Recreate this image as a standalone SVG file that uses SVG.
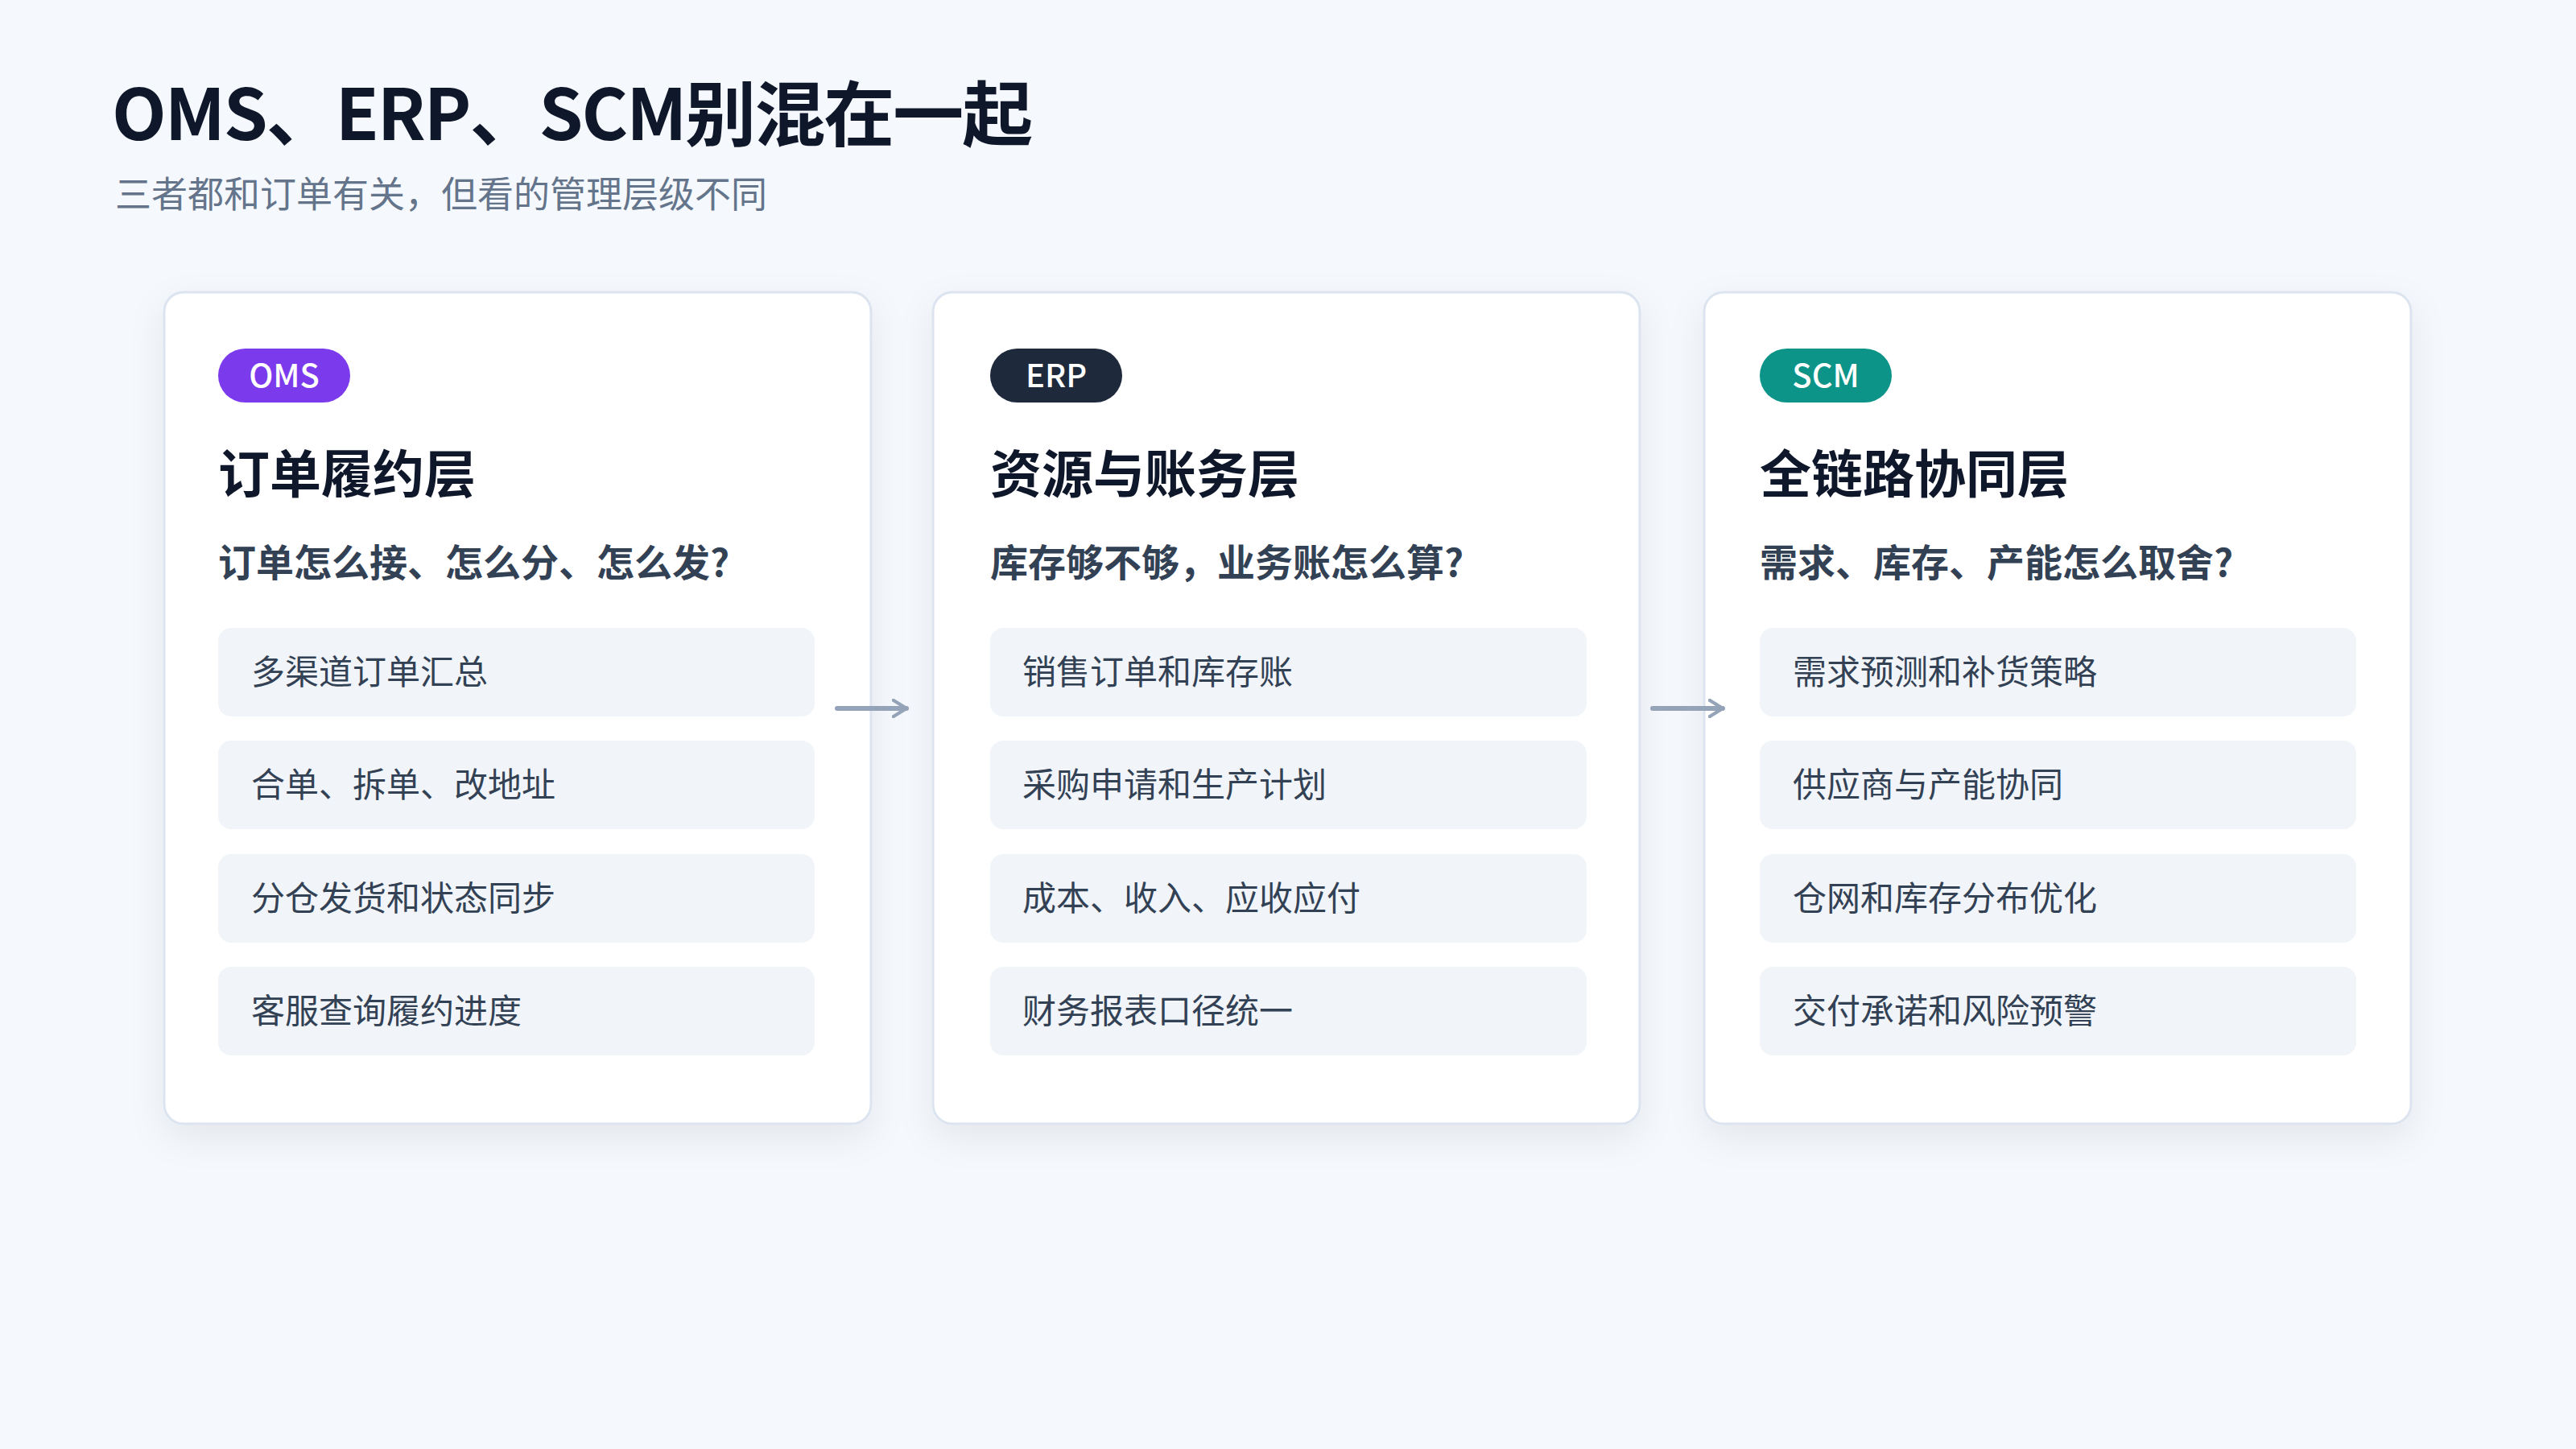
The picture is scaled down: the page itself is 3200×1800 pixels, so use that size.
<svg xmlns="http://www.w3.org/2000/svg" width="3200" height="1800" viewBox="0 0 3200 1800">
<defs>
<filter id="sh" x="-20%" y="-20%" width="140%" height="140%"><feDropShadow dx="0" dy="16" stdDeviation="22" flood-color="#0f172a" flood-opacity="0.07"/></filter>
<marker id="ah" viewBox="0 0 12 12" refX="9" refY="6" markerWidth="4" markerHeight="4" orient="auto"><path d="M1,1 L9,6 L1,11" fill="none" stroke="#94a3b8" stroke-width="2.2" stroke-linecap="round" stroke-linejoin="round"/></marker>
</defs>
<style>
text{font-family:"Noto Sans CJK SC","Noto Sans",sans-serif}
.card{fill:#fff;stroke:#dbe4ef;stroke-width:3}
.pill-t{fill:#fff;font-size:40px;font-weight:500;text-anchor:middle}
.h{fill:#0f172a;font-size:64px;font-weight:700}
.q{fill:#334155;font-size:47px;font-weight:700}
.item{fill:#f1f5f9}
.it{fill:#334155;font-size:42px}
.conn{stroke:#94a3b8;stroke-width:6;fill:none;stroke-linecap:round}
</style>
<rect width="3200" height="1800" fill="#f5f8fc"/>
<text x="139" y="174" font-size="88" font-weight="600" fill="#0f172a" letter-spacing="-2">OMS、ERP、SCM别混在一起</text>
<text x="143" y="258" font-size="45" fill="#64748b">三者都和订单有关，但看的管理层级不同</text>

<g id="oms">
<rect class="card" x="204" y="363" width="878" height="1033" rx="24" filter="url(#sh)"/>
<rect x="271" y="433" width="164" height="67" rx="33.5" fill="#7c3aed"/>
<text class="pill-t" x="353" y="481">OMS</text>
<text class="h" x="271" y="612">订单履约层</text>
<text class="q" x="271" y="716">订单怎么接、怎么分、怎么发?</text>
<rect class="item" x="271" y="780" width="741" height="110" rx="16"/><text class="it" x="312" y="850">多渠道订单汇总</text>
<rect class="item" x="271" y="920" width="741" height="110" rx="16"/><text class="it" x="312" y="990">合单、拆单、改地址</text>
<rect class="item" x="271" y="1061" width="741" height="110" rx="16"/><text class="it" x="312" y="1131">分仓发货和状态同步</text>
<rect class="item" x="271" y="1201" width="741" height="110" rx="16"/><text class="it" x="312" y="1271">客服查询履约进度</text>
</g>

<g id="erp">
<rect class="card" x="1159" y="363" width="878" height="1033" rx="24" filter="url(#sh)"/>
<rect x="1230" y="433" width="164" height="67" rx="33.5" fill="#1e293b"/>
<text class="pill-t" x="1312" y="481">ERP</text>
<text class="h" x="1230" y="612">资源与账务层</text>
<text class="q" x="1230" y="716">库存够不够，业务账怎么算?</text>
<rect class="item" x="1230" y="780" width="741" height="110" rx="16"/><text class="it" x="1270" y="850">销售订单和库存账</text>
<rect class="item" x="1230" y="920" width="741" height="110" rx="16"/><text class="it" x="1270" y="990">采购申请和生产计划</text>
<rect class="item" x="1230" y="1061" width="741" height="110" rx="16"/><text class="it" x="1270" y="1131">成本、收入、应收应付</text>
<rect class="item" x="1230" y="1201" width="741" height="110" rx="16"/><text class="it" x="1270" y="1271">财务报表口径统一</text>
</g>

<g id="scm">
<rect class="card" x="2117" y="363" width="878" height="1033" rx="24" filter="url(#sh)"/>
<rect x="2186" y="433" width="164" height="67" rx="33.5" fill="#0d9488"/>
<text class="pill-t" x="2268" y="481">SCM</text>
<text class="h" x="2186" y="612">全链路协同层</text>
<text class="q" x="2186" y="716">需求、库存、产能怎么取舍?</text>
<rect class="item" x="2186" y="780" width="741" height="110" rx="16"/><text class="it" x="2227" y="850">需求预测和补货策略</text>
<rect class="item" x="2186" y="920" width="741" height="110" rx="16"/><text class="it" x="2227" y="990">供应商与产能协同</text>
<rect class="item" x="2186" y="1061" width="741" height="110" rx="16"/><text class="it" x="2227" y="1131">仓网和库存分布优化</text>
<rect class="item" x="2186" y="1201" width="741" height="110" rx="16"/><text class="it" x="2227" y="1271">交付承诺和风险预警</text>
</g>

<g id="connectors">
<line class="conn" x1="1040" y1="880" x2="1126" y2="880" marker-end="url(#ah)"/>
<line class="conn" x1="2053" y1="880" x2="2140" y2="880" marker-end="url(#ah)"/>
</g>
</svg>
